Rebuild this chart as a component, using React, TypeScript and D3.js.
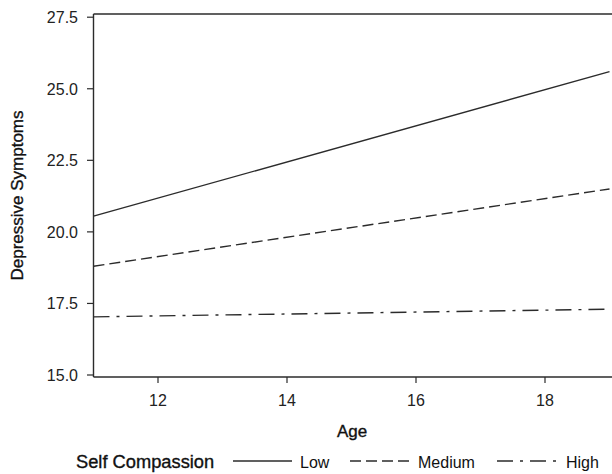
import React from 'react';
import * as d3 from 'd3';

// values
const ages = [11, 19];
const lowSC = [20.55, 25.6];
const mediumSC = [18.8, 21.5];
const highSC = [17.03, 17.3];
const xTicks = [12, 14, 16, 18];
const yTicks = [15.0, 17.5, 20.0, 22.5, 25.0, 27.5];

const seriesNames = ['Low', 'Medium', 'High'];
const seriesValues = [lowSC, mediumSC, highSC];
const dashes = ['none', '11,5', '16,7,3,7'];

const W = 612;
const H = 474;
const plot = { left: 93.5, right: 609.5, top: 14, bottom: 377 };
const font = 'Arial, "Liberation Sans", Helvetica, sans-serif';
const ink = '#2b2b2b';

const App = () => {
  const x = d3.scaleLinear().domain([11, 19]).range([plot.left, plot.right]);
  const y = d3.scaleLinear().domain([15, 27.5]).range([375, 17.2]);

  const line = d3.line<number>()
    .x((_, i) => x(ages[i]))
    .y((d) => y(d));

  // legend entries: line start/end and label x
  const legend = [
    { x1: 233, x2: 292, tx: 300 },
    { x1: 350, x2: 409, tx: 418 },
    { x1: 497, x2: 556, tx: 566 },
  ];

  // titles look a touch heavier than regular but lighter than bold
  const titleStyle = { fill: '#111', stroke: '#111', strokeWidth: 0.35 };

  return (
    <svg width={W} height={H} style={{ position: 'absolute', left: 0, top: 0, background: '#fff' }}
      fontFamily={font}>
      {/* series */}
      {seriesValues.map((vals, i) => (
        <path key={seriesNames[i]} d={line(vals) || ''} fill="none" stroke={ink}
          strokeWidth={1.4} strokeDasharray={dashes[i]} />
      ))}

      {/* frame */}
      <line x1={plot.left} x2={W} y1={plot.top} y2={plot.top} stroke={ink} strokeWidth={1.4} />
      <line x1={plot.left} x2={W} y1={plot.bottom} y2={plot.bottom} stroke={ink} strokeWidth={1.4} />
      <line x1={plot.left} x2={plot.left} y1={plot.top} y2={plot.bottom} stroke={ink} strokeWidth={1.4} />

      {/* y axis */}
      {yTicks.map((t) => (
        <g key={t}>
          <line x1={plot.left - 6.5} x2={plot.left} y1={y(t)} y2={y(t)} stroke={ink} strokeWidth={1.2} />
          <text x={78} y={y(t)} dy="0.36em" textAnchor="end" fontSize={16} fill="#222">{t.toFixed(1)}</text>
        </g>
      ))}

      {/* x axis */}
      {xTicks.map((t) => (
        <g key={t}>
          <line x1={x(t)} x2={x(t)} y1={plot.bottom} y2={plot.bottom + 6} stroke={ink} strokeWidth={1.2} />
          <text x={x(t)} y={406} textAnchor="middle" fontSize={16} fill="#222">{t}</text>
        </g>
      ))}

      <text x={352} y={437} textAnchor="middle" fontSize={17} style={titleStyle}>Age</text>
      <text transform={`translate(23, ${(plot.top + plot.bottom) / 2}) rotate(-90)`} textAnchor="middle"
        fontSize={17} style={titleStyle}>Depressive Symptoms</text>

      {/* legend */}
      <text x={76} y={468} fontSize={18.3} style={titleStyle}>Self Compassion</text>
      {legend.map((l, i) => (
        <g key={seriesNames[i]}>
          <line x1={l.x1} x2={l.x2} y1={461} y2={461} stroke={ink} strokeWidth={1.4}
            strokeDasharray={dashes[i]} />
          <text x={l.tx} y={468} fontSize={16} fill="#111">{seriesNames[i]}</text>
        </g>
      ))}
    </svg>
  );
};

export default App;
